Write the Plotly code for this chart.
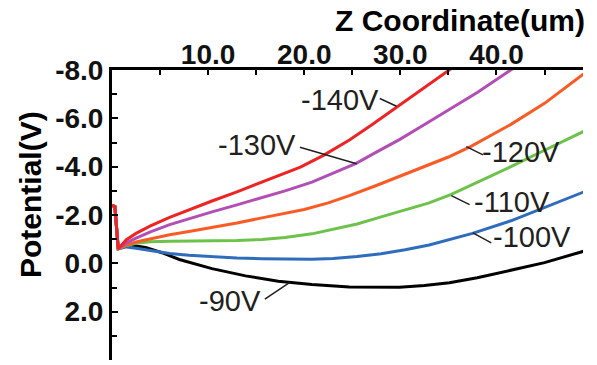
import plotly.graph_objects as go

# Common start of every curve (z in um, potential in V)
z_start = [0.0, 0.3, 0.65]
v_start = [-2.4, -2.35, -0.6]

z_m90 = [1.4, 2.5, 3.5, 5.2, 7.0, 10.4, 13.9, 17.3, 20.8, 24.7, 27.5, 29.9, 32.5, 35.1, 38.0, 41.5, 45.0, 48.8, 49.5]
v_m90 = [-0.7, -0.72, -0.66, -0.44, -0.16, 0.22, 0.52, 0.74, 0.88, 0.98, 1.0, 0.99, 0.92, 0.8, 0.6, 0.3, -0.03, -0.47, -0.55]

z_m100 = [1.5, 2.5, 4.0, 6.0, 8.0, 10.4, 13.0, 15.6, 18.0, 20.8, 23.0, 25.5, 28.0, 30.5, 33.0, 35.1, 37.5, 41.5, 45.0, 48.8, 49.5]
v_m100 = [-0.68, -0.62, -0.52, -0.41, -0.33, -0.27, -0.22, -0.19, -0.17, -0.17, -0.2, -0.28, -0.4, -0.56, -0.76, -0.97, -1.24, -1.76, -2.3, -2.91, -3.02]

z_m110 = [1.5, 2.5, 4.0, 6.0, 8.0, 10.4, 13.0, 15.6, 18.0, 20.8, 23.0, 25.5, 28.0, 30.5, 33.0, 35.3, 38.0, 41.5, 45.0, 48.8, 49.5]
v_m110 = [-0.74, -0.83, -0.89, -0.91, -0.91, -0.91, -0.94, -0.99, -1.07, -1.22, -1.4, -1.63, -1.92, -2.2, -2.5, -2.85, -3.35, -4.0, -4.68, -5.4, -5.54]

z_m120 = [1.5, 2.5, 4.0, 6.0, 8.0, 10.4, 13.0, 15.6, 18.0, 20.0, 22.5, 24.7, 27.5, 29.9, 32.5, 35.0, 37.4, 39.5, 41.5, 45.0, 48.8, 49.5]
v_m120 = [-0.75, -0.88, -1.02, -1.18, -1.32, -1.48, -1.67, -1.88, -2.07, -2.23, -2.5, -2.8, -3.22, -3.6, -4.0, -4.4, -4.85, -5.3, -5.75, -6.62, -7.75, -7.97]

z_m130 = [1.5, 2.5, 4.0, 6.0, 8.0, 10.4, 13.0, 15.6, 18.0, 20.8, 23.0, 25.4, 27.5, 29.9, 32.0, 34.6, 38.0, 41.4, 43.0]
v_m130 = [-0.85, -1.04, -1.3, -1.6, -1.85, -2.13, -2.42, -2.72, -3.0, -3.36, -3.72, -4.14, -4.6, -5.12, -5.62, -6.25, -7.07, -7.98, -8.4]

z_m140 = [1.5, 2.5, 4.0, 6.0, 8.0, 10.4, 13.0, 15.6, 18.0, 19.6, 22.0, 24.7, 27.0, 29.6, 32.0, 35.1, 36.5]
v_m140 = [-0.98, -1.24, -1.55, -1.9, -2.22, -2.58, -2.96, -3.35, -3.72, -3.98, -4.47, -5.1, -5.72, -6.45, -7.1, -7.98, -8.4]

series_names = ["-90V", "-100V", "-110V", "-120V", "-130V", "-140V"]
series_z = [z_m90, z_m100, z_m110, z_m120, z_m130, z_m140]
series_v = [v_m90, v_m100, v_m110, v_m120, v_m130, v_m140]
series_colors = ["#000000", "#2f6cbc", "#6cc24a", "#f95b25", "#b14fb4", "#ee2424"]

# label text positions and leader lines (data coords)
label_pos = [(12.3, 1.56), (43.7, -1.09), (41.6, -2.53), (42.6, -4.59), (15.1, -4.9), (23.74, -6.75)]
leader_lines = [((15.9, 1.48), (18.5, 0.79)),
                ((37.55, -1.26), (39.46, -0.85)),
                ((35.3, -2.8), (37.2, -2.43)),
                ((36.86, -4.83), (38.6, -4.49)),
                ((19.55, -4.8), (25.45, -4.12)),
                ((27.86, -6.82), (29.6, -6.5))]

x_tickvals = [10, 20, 30, 40]
x_ticktext = ["10.0", "20.0", "30.0", "40.0"]
x_minor = [5, 15, 25, 35, 45]
y_tickvals = [-8, -6, -4, -2, 0, 2]
y_ticktext = ["-8.0", "-6.0", "-4.0", "-2.0", "0.0", "2.0"]
y_minor = [-7, -5, -3, -1, 1, 3]

FONT = "Liberation Sans, Arial"

fig = go.Figure()
for name, zs, vs, col in zip(series_names, series_z, series_v, series_colors):
    fig.add_trace(go.Scatter(x=z_start + zs, y=v_start + vs, mode="lines",
                             line=dict(color=col, width=3),
                             name=name, showlegend=False))

for name, (lx, ly) in zip(series_names, label_pos):
    fig.add_annotation(x=lx, y=ly, text=name, showarrow=False,
                       font=dict(family=FONT, size=29, color="#231f20"))
for (p0, p1) in leader_lines:
    fig.add_shape(type="line", x0=p0[0], y0=p0[1], x1=p1[0], y1=p1[1],
                  line=dict(color="#231f20", width=1.5))

fig.add_annotation(x=1.0, y=1.0, xref="paper", yref="paper", xanchor="right", yanchor="middle",
                   xshift=4, yshift=50, text="<b>Z Coordinate(um)</b>", showarrow=False,
                   font=dict(family=FONT, size=30, color="#000000"))
fig.add_annotation(x=0, y=0.5, xref="paper", yref="paper", xanchor="center", yanchor="middle",
                   xshift=-82, yshift=20, textangle=-90, text="<b>Potential(V)</b>", showarrow=False,
                   font=dict(family=FONT, size=30, color="#000000"))

tickfont = dict(family=FONT, size=28, color="#111111", weight="bold")
fig.update_xaxes(range=[0, 49], side="top", showline=True, linecolor="#000000", linewidth=3,
                 showgrid=False, zeroline=False, tickvals=x_tickvals, ticktext=x_ticktext,
                 ticks="inside", ticklen=5, tickwidth=2, tickcolor="#000000", tickfont=tickfont,
                 automargin=False, ticklabelstandoff=-8,
                 minor=dict(tickvals=x_minor, ticks="inside", ticklen=5, tickwidth=2, tickcolor="#000000"))
fig.update_yaxes(range=[4, -8], showline=True, linecolor="#000000", linewidth=3,
                 showgrid=False, zeroline=False, tickvals=y_tickvals, ticktext=y_ticktext,
                 ticks="inside", ticklen=6, tickwidth=2, tickcolor="#000000", tickfont=tickfont,
                 automargin=False,
                 minor=dict(tickvals=y_minor, ticks="inside", ticklen=5, tickwidth=2, tickcolor="#000000"))

fig.update_layout(width=597, height=365, margin=dict(l=112, r=14, t=70, b=5),
                  plot_bgcolor="white", paper_bgcolor="white")
fig.write_html("out.html", config={"displayModeBar": False},
               post_script="document.body.style.margin='0';")
